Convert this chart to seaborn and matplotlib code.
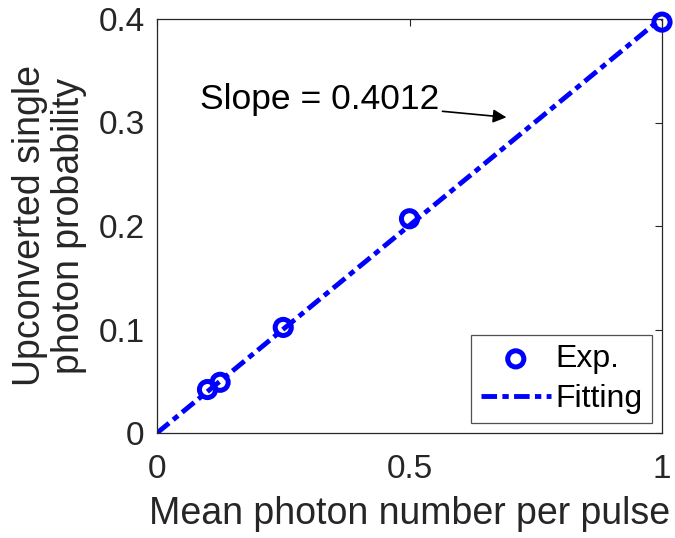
import matplotlib
matplotlib.use("Agg")
import matplotlib.pyplot as plt
import numpy as np
import pandas as pd
import seaborn as sns

# measured points
mean_photon = [0.1, 0.125, 0.25, 0.5, 1.0]
single_prob = [0.042, 0.049, 0.102, 0.207, 0.397]

# linear fit
fit_x = [0.0, 1.0]
slope = 0.4012
fit_y = [slope * x for x in fit_x]

BLUE = "#0000ff"
TEXT = "#262626"


def main() -> None:
    sns.set_theme(style="white")
    plt.rcParams["font.family"] = ["Liberation Sans", "DejaVu Sans"]

    exp_df = pd.DataFrame({"x": mean_photon, "y": single_prob})
    fit_df = pd.DataFrame({"x": fit_x, "y": fit_y})

    fig = plt.figure(figsize=(6.75, 5.38), dpi=100)
    ax = fig.add_axes([157 / 675, 1 - 433 / 538, 505 / 675, 414 / 538])

    sns.lineplot(data=fit_df, x="x", y="y", ax=ax, color=BLUE, lw=3.5,
                 label="Fitting", zorder=2)
    ax.lines[0].set_dashes([3.2, 1.1, 1.3, 1.1])

    sns.scatterplot(data=exp_df, x="x", y="y", ax=ax, marker="o", s=135,
                    facecolor="none", edgecolor=BLUE, linewidth=3.6,
                    label="Exp.", zorder=3, clip_on=False)

    ax.set_xlim(0, 1)
    ax.set_ylim(0, 0.4)
    ax.set_xticks([0, 0.5, 1])
    ax.set_xticklabels(["0", "0.5", "1"])
    ax.set_yticks([0, 0.1, 0.2, 0.3, 0.4])
    ax.set_yticklabels(["0", "0.1", "0.2", "0.3", "0.4"])
    ax.tick_params(direction="in", length=5, width=0.8, colors=TEXT,
                   labelsize=24, top=True, right=True)
    ax.tick_params(axis="x", pad=15)
    ax.tick_params(axis="y", pad=9)
    for sp in ax.spines.values():
        sp.set_color(TEXT)
        sp.set_linewidth(0.9)

    ax.set_xlabel("Mean photon number per pulse", fontsize=27, color=TEXT,
                  labelpad=8)
    ax.set_ylabel("Upconverted single\nphoton probability", fontsize=27,
                  color=TEXT, labelpad=8, linespacing=1.1)

    ax.annotate("Slope = 0.4012", xy=(0.692, 0.305), xytext=(0.085, 0.322),
                textcoords="data", fontsize=25.5, color="black",
                va="center", ha="left",
                arrowprops=dict(arrowstyle="-|>", color="black", lw=1.2,
                                mutation_scale=20, shrinkA=0, shrinkB=0))

    handles, labels = ax.get_legend_handles_labels()
    order = [labels.index("Exp."), labels.index("Fitting")]
    leg = ax.legend([handles[i] for i in order], [labels[i] for i in order],
                    loc="lower right", fontsize=23, frameon=True, fancybox=False,
                    edgecolor=TEXT, borderaxespad=0.3, handlelength=2.2,
                    handletextpad=0.15, borderpad=0.3, labelspacing=0.3)
    leg.get_frame().set_linewidth(0.9)
    for t in leg.get_texts():
        t.set_color("black")

    fig.savefig("out.png", dpi=100)
    plt.close(fig)


if __name__ == "__main__":
    main()
